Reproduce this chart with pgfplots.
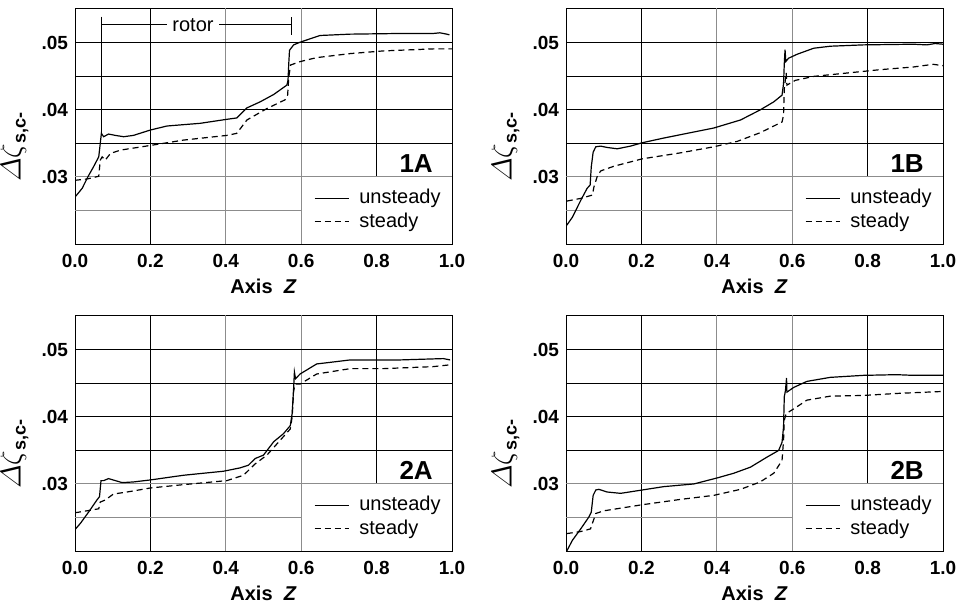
\documentclass[border=0pt]{standalone}
\usepackage{fontspec}
\setmainfont{Liberation Sans}
\usepackage{amsmath}
\usepackage{pgfplots}
\pgfplotsset{compat=1.18}

\definecolor{gridgray}{RGB}{140,140,140}

\pgfplotsset{
  panel/.style={
    scale only axis, width=188.5pt, height=118pt, anchor=south west,
    xmin=0, xmax=1, ymin=0.02, ymax=0.0552,
    xtick={0,0.2,0.4,0.6,0.8,1}, xticklabels={0.0,0.2,0.4,0.6,0.8,1.0},
    ytick={0.03,0.04,0.05}, yticklabels={.03,.04,.05},
    scaled y ticks=false, major tick length=0pt,
    axis line style={line width=0.5pt},
    ticklabel style={font=\bfseries\fontsize{9.5}{11}\selectfont},
    xticklabel style={anchor=base, yshift=-11.5pt},
    xlabel={\bfseries\fontsize{10}{12}\selectfont Axis\ \ \textit{Z}},
    xlabel style={at={(rel axis cs:0.5,0)}, anchor=base, yshift=-24.5pt},
    ylabel={{\fontsize{15}{17}\selectfont$\varDelta\zeta$}{\bfseries\fontsize{9}{10}\selectfont\raisebox{-2.5pt}{s,c-}}},
    ylabel style={at={(rel axis cs:-0.105,0.41)}, anchor=south, rotate=0},
    legend style={at={(axis cs:0.617,0.0294)}, anchor=north west, draw=none, fill=none,
      nodes={font=\fontsize{10}{12}\selectfont}, row sep=-1pt,
      /tikz/every odd column/.append style={column sep=3pt}},
    legend cell align=left,
  },
  uns/.style={black, line width=0.6pt},
  std/.style={black, line width=0.6pt, dash pattern=on 3pt off 2pt},
}

\newcommand\panelgrid{%
  \draw[black, line width=0.5pt] (axis cs:0.2,0.02) -- (axis cs:0.2,0.0552);
  \draw[gridgray, line width=0.5pt] (axis cs:0.4,0.02) -- (axis cs:0.4,0.0552);
  \draw[gridgray, line width=0.5pt] (axis cs:0.6,0.02) -- (axis cs:0.6,0.0552);
  \draw[black, line width=0.5pt] (axis cs:0.8,0.03) -- (axis cs:0.8,0.0552);
  \draw[black, line width=0.5pt] (axis cs:0,0.05) -- (axis cs:1,0.05);
  \draw[black, line width=0.5pt] (axis cs:0,0.045) -- (axis cs:1,0.045);
  \draw[black, line width=0.5pt] (axis cs:0,0.04) -- (axis cs:1,0.04);
  \draw[black, line width=0.5pt] (axis cs:0,0.035) -- (axis cs:1,0.035);
  \draw[gridgray, line width=0.5pt] (axis cs:0,0.03) -- (axis cs:1,0.03);
  \draw[gridgray, line width=0.5pt] (axis cs:0,0.025) -- (axis cs:0.6,0.025);
}
\newcommand\paneltag[1]{%
  \node[anchor=base east, font=\bfseries\fontsize{13}{15}\selectfont, inner sep=0pt]
    at (axis cs:0.95,0.0307) {#1};
}

\begin{document}
\begin{tikzpicture}
\path[use as bounding box] (0,0) rectangle (481pt,303pt);

% ---------- 1A ----------
\begin{axis}[panel, at={(37.5pt,181pt)}]
\panelgrid
\draw[black, line width=0.5pt] (axis cs:0.0698,0.0539) -- (axis cs:0.0698,0.0366);
\draw[black, line width=0.5pt] (axis cs:0.0698,0.0527) -- (axis cs:0.575,0.0527);
\draw[black, line width=0.5pt] (axis cs:0.575,0.0538) -- (axis cs:0.575,0.0511);
\node[fill=white, inner sep=2.5pt, font=\fontsize{10}{12}\selectfont] at (axis cs:0.313,0.0527) {rotor};
\addplot[uns] coordinates {
(0,0.0270) (0.019,0.0283) (0.034,0.0300) (0.049,0.0315) (0.063,0.0330)
(0.067,0.0350) (0.070,0.0365) (0.076,0.0360) (0.089,0.0364) (0.107,0.0362)
(0.129,0.0360) (0.155,0.0362) (0.2,0.0370) (0.244,0.0376) (0.332,0.0380)
(0.403,0.0386) (0.429,0.0388) (0.456,0.0403) (0.491,0.0412) (0.527,0.0423)
(0.562,0.0437) (0.565,0.0444) (0.567,0.0469) (0.569,0.0489) (0.580,0.0497)
(0.597,0.0501) (0.650,0.0511) (0.730,0.0513) (0.862,0.0514) (0.950,0.0514)
(0.968,0.0515) (0.986,0.0513) (0.993,0.0512)};
\addlegendentry{unsteady}
\addplot[std] coordinates {
(0,0.0295) (0.032,0.0297) (0.063,0.0301) (0.067,0.0325) (0.072,0.0330)
(0.080,0.0325) (0.094,0.0335) (0.120,0.0340) (0.2,0.0347) (0.288,0.0355)
(0.403,0.0362) (0.429,0.0365) (0.456,0.0385) (0.509,0.0402) (0.557,0.0415)
(0.564,0.0422) (0.567,0.0449) (0.572,0.0467) (0.597,0.0472) (0.641,0.0478)
(0.730,0.0484) (0.818,0.0488) (0.950,0.0491) (1.0,0.0491)};
\addlegendentry{steady}
\paneltag{1A}
\end{axis}

% ---------- 1B ----------
\begin{axis}[panel, at={(283pt,181pt)}]
\panelgrid
\addplot[uns] coordinates {
(0.002,0.0228) (0.017,0.0240) (0.039,0.0265) (0.056,0.0283) (0.064,0.0288)
(0.067,0.0315) (0.072,0.0337) (0.079,0.0345) (0.092,0.0346) (0.109,0.0344)
(0.136,0.0342) (0.171,0.0346) (0.202,0.0351) (0.259,0.0358) (0.321,0.0365)
(0.392,0.0373) (0.463,0.0385) (0.515,0.0400) (0.551,0.0412) (0.573,0.0422)
(0.577,0.0439) (0.579,0.0469) (0.581,0.0490) (0.583,0.0472) (0.590,0.0477)
(0.613,0.0483) (0.657,0.0492) (0.701,0.0495) (0.789,0.0497) (0.921,0.0498)
(0.957,0.0497) (0.979,0.0499) (1.0,0.0498)};
\addlegendentry{unsteady}
\addplot[std] coordinates {
(0.002,0.0264) (0.039,0.0268) (0.070,0.0273) (0.074,0.0285) (0.083,0.0301)
(0.092,0.0309) (0.127,0.0316) (0.202,0.0327) (0.304,0.0336) (0.392,0.0345)
(0.454,0.0353) (0.515,0.0366) (0.573,0.0382) (0.577,0.0392) (0.579,0.0432)
(0.584,0.0455) (0.586,0.0437) (0.608,0.0444) (0.657,0.0450) (0.745,0.0455)
(0.833,0.0460) (0.921,0.0464) (0.974,0.0468) (1.0,0.0466)};
\addlegendentry{steady}
\paneltag{1B}
\end{axis}

% ---------- 2A ----------
\begin{axis}[panel, at={(37.5pt,27.5pt)}]
\panelgrid
\addplot[uns] coordinates {
(0,0.0232) (0.014,0.0241) (0.036,0.0258) (0.058,0.0276) (0.065,0.0281)
(0.069,0.0305) (0.076,0.0305) (0.089,0.0308) (0.107,0.0305) (0.125,0.0302)
(0.155,0.0303) (0.2,0.0306) (0.288,0.0313) (0.394,0.0319) (0.438,0.0324)
(0.460,0.0328) (0.478,0.0338) (0.500,0.0343) (0.527,0.0363) (0.553,0.0375)
(0.571,0.0387) (0.576,0.0405) (0.580,0.0444) (0.582,0.0467) (0.585,0.0457)
(0.597,0.0464) (0.641,0.0479) (0.686,0.0482) (0.730,0.0485) (0.862,0.0485)
(0.977,0.0487) (0.995,0.0485)};
\addlegendentry{unsteady}
\addplot[std] coordinates {
(0,0.0257) (0.032,0.0260) (0.063,0.0263) (0.067,0.0273) (0.080,0.0276)
(0.102,0.0285) (0.138,0.0288) (0.2,0.0294) (0.288,0.0299) (0.403,0.0305)
(0.447,0.0313) (0.478,0.0330) (0.509,0.0343) (0.544,0.0365) (0.571,0.0382)
(0.576,0.0400) (0.580,0.0439) (0.584,0.0449) (0.597,0.0449) (0.641,0.0464)
(0.730,0.0472) (0.818,0.0472) (0.950,0.0475) (1.0,0.0478)};
\addlegendentry{steady}
\paneltag{2A}
\end{axis}

% ---------- 2B ----------
\begin{axis}[panel, at={(283pt,27.5pt)}]
\panelgrid
\addplot[uns] coordinates {
(0.002,0.0200) (0.017,0.0216) (0.039,0.0233) (0.061,0.0251) (0.067,0.0258)
(0.072,0.0283) (0.079,0.0291) (0.087,0.0292) (0.109,0.0288) (0.145,0.0286)
(0.202,0.0291) (0.259,0.0296) (0.339,0.0300) (0.401,0.0309) (0.445,0.0316)
(0.489,0.0325) (0.533,0.0340) (0.564,0.0350) (0.573,0.0362) (0.577,0.0385)
(0.579,0.0430) (0.582,0.0439) (0.585,0.0458) (0.586,0.0437) (0.604,0.0444)
(0.639,0.0453) (0.701,0.0459) (0.789,0.0462) (0.877,0.0463) (0.921,0.0462)
(1.0,0.0462)};
\addlegendentry{unsteady}
\addplot[std] coordinates {
(0.002,0.0226) (0.039,0.0229) (0.065,0.0233) (0.079,0.0256) (0.101,0.0260)
(0.202,0.0269) (0.304,0.0277) (0.392,0.0283) (0.463,0.0292) (0.515,0.0303)
(0.551,0.0316) (0.573,0.0335) (0.577,0.0365) (0.579,0.0395) (0.584,0.0405)
(0.604,0.0412) (0.639,0.0425) (0.701,0.0431) (0.789,0.0432) (0.877,0.0435)
(1.0,0.0438)};
\addlegendentry{steady}
\paneltag{2B}
\end{axis}
\end{tikzpicture}
\end{document}
